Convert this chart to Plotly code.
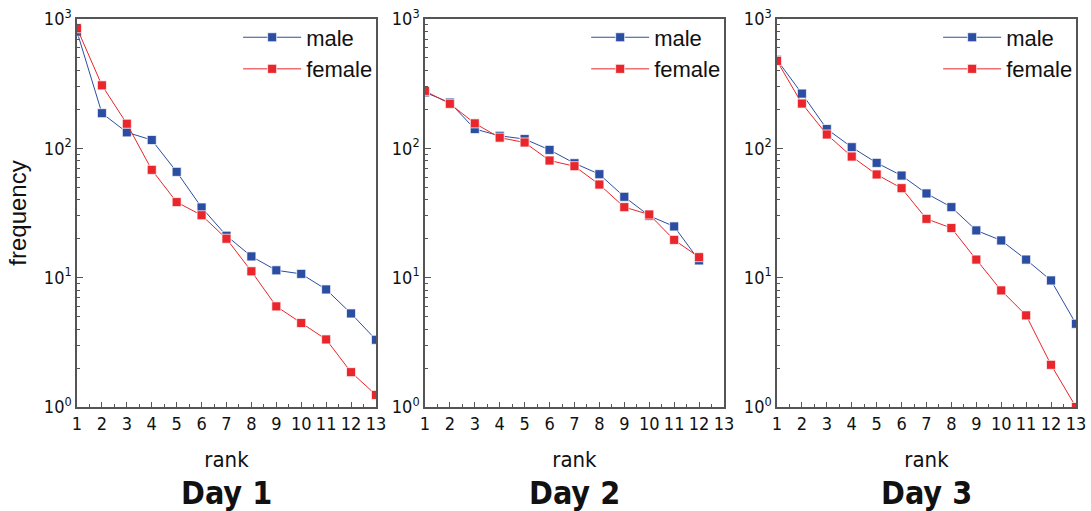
import plotly.graph_objects as go

ranks = list(range(1, 14))
day1_male = [798, 187, 133, 116, 65.8, 34.9, 21.1, 14.6, 11.4, 10.7, 8.11, 5.29, 3.31]
day1_female = [848, 307, 155, 68.2, 38.4, 30.4, 20.0, 11.2, 6.0, 4.46, 3.33, 1.86, 1.24]
day2_male = [271, 226, 141, 125, 118, 97.3, 76.7, 63.1, 42.2, 30.1, 24.9, 13.6]
day2_female = [278, 221, 156, 121, 111, 80.5, 72.8, 52.5, 35.1, 30.8, 19.6, 14.4]
day3_male = [483, 265, 141, 102, 77.2, 61.6, 44.8, 35.1, 23.2, 19.4, 13.8, 9.52, 4.40]
day3_female = [474, 222, 128, 86.4, 62.8, 49.2, 28.5, 24.2, 13.8, 7.97, 5.11, 2.12, 1.0]
day_titles = ["Day 1", "Day 2", "Day 3"]
x_tick_labels = [str(r) for r in ranks]
y_tick_vals = [1, 10, 100, 1000]
y_tick_labels = ["10<sup>0</sup>", "10<sup>1</sup>", "10<sup>2</sup>", "10<sup>3</sup>"]

BLUE = "#2b4ea2"
RED = "#e8262b"
FRAME = "#555555"
FONT = "Liberation Sans, Arial, sans-serif"
NARROW = "DejaVu Sans Condensed, Liberation Sans Narrow, Arial, sans-serif"

xdomains = [(0.0706, 0.3446), (0.3895, 0.6636), (0.7122, 0.9862)]
ydomain = (0.2035, 0.9628)

data = [(day1_male, day1_female), (day2_male, day2_female), (day3_male, day3_female)]

fig = go.Figure()
for i, (m, f) in enumerate(data):
    sfx = "" if i == 0 else str(i + 1)
    leg = "legend" if i == 0 else f"legend{i + 1}"
    for name, vals, col in (("male", m, BLUE), ("female", f, RED)):
        fig.add_trace(go.Scatter(
            x=ranks[:len(vals)], y=vals, name=name, mode="lines+markers",
            line=dict(color=col, width=1),
            marker=dict(symbol="square", size=9, color=col,
                        line=dict(color="rgba(255,255,255,0.7)", width=1)),
            xaxis="x" + sfx, yaxis="y" + sfx, legend=leg,
        ))
    x0, x1 = xdomains[i]
    fig.update_layout(**{
        "xaxis" + sfx: dict(
            domain=[x0, x1], range=[1, 13], anchor="y" + sfx, automargin=False,
            tickvals=ranks, ticktext=x_tick_labels,
            ticks="inside", ticklen=5, tickwidth=1, tickcolor=FRAME,
            minor=dict(tickvals=[r + 0.5 for r in ranks[:-1]], ticks="inside",
                       ticklen=3, tickcolor=FRAME),
            showline=True, linecolor=FRAME, linewidth=1.5, mirror=True,
            showgrid=False, zeroline=False,
            tickfont=dict(family=NARROW, size=18, color="#111"),
            title=dict(text="rank", font=dict(family=NARROW, size=22, color="#111"),
                       standoff=18),
        ),
        "yaxis" + sfx: dict(
            domain=list(ydomain), type="log", range=[0, 3], anchor="x" + sfx,
            automargin=False,
            tickvals=y_tick_vals, ticktext=y_tick_labels,
            ticks="inside", ticklen=6, tickwidth=1, tickcolor=FRAME,
            minor=dict(dtick="D1", ticks="inside", ticklen=3, tickcolor=FRAME),
            showline=True, linecolor=FRAME, linewidth=1.5, mirror=True,
            showgrid=False, zeroline=False,
            tickfont=dict(family=NARROW, size=18, color="#111"),
            title=dict(text="frequency" if i == 0 else "",
                       font=dict(family=FONT, size=24, color="#111"), standoff=10),
        ),
        leg: dict(
            x=x1 + 0.002, y=ydomain[1] + 0.005, xanchor="right", yanchor="top",
            bgcolor="rgba(0,0,0,0)", borderwidth=0, itemwidth=58,
            font=dict(family=FONT, size=22, color="#111"), tracegroupgap=0,
        ),
    })
    fig.add_annotation(
        text="<b>" + day_titles[i] + "</b>", xref="paper", yref="paper",
        x=(x0 + x1) / 2, y=0.035, xanchor="center", yanchor="middle",
        showarrow=False, font=dict(family=NARROW, size=32, color="#111"),
    )

fig.update_layout(
    width=1091, height=511, margin=dict(l=0, r=0, t=0, b=0),
    paper_bgcolor="white", plot_bgcolor="white", showlegend=True,
)
fig.write_html(
    "out.html",
    config={"displayModeBar": False},
    post_script="document.body.style.margin='0';document.body.style.overflow='hidden';",
)
